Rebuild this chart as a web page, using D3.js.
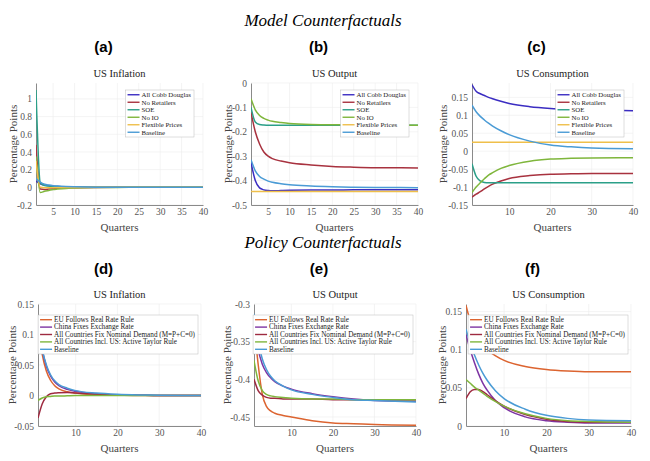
<!DOCTYPE html>
<html lang="en">
<head>
    <meta charset="UTF-8">
    <title>Model and Policy Counterfactuals</title>
    <script src="https://d3js.org/d3.v7.min.js"></script>
    <style>
        body { margin: 0; background: #fff; }
        text { font-family: "Liberation Serif", "Times New Roman", serif; }
        .axis .domain { stroke: #8a8a8a; }
        .axis text { fill: #555; font-size: 9.5px; font-family: "Liberation Serif", serif; }
    </style>
</head>
<body>
    <svg id="chart" width="650" height="461"></svg>
    <script>
        const quarters = [1, 2, 3, 4, 5, 6, 8, 10, 15, 20, 25, 30, 40];

        const modelNames = ["All Cobb Douglas", "No Retailers", "SOE", "No IO", "Flexible Prices", "Baseline"];
        const policyNames = ["EU Follows Real Rate Rule", "China Fixes Exchange Rate",
            "All Countries Fix Nominal Demand (M=P+C=0)", "All Countries Incl. US: Active Taylor Rule", "Baseline"];

        // (a) US Inflation, model counterfactuals
        const inflationModel = [
            [0.07, 0.04, 0.025, 0.018, 0.013, 0.01, 0.006, 0.004, 0.001, 0, 0, 0, 0],
            [0.48, -0.02, -0.025, -0.02, -0.015, -0.01, -0.006, -0.004, -0.001, 0, 0, 0, 0],
            [1.1, 0.05, 0.02, 0.015, 0.01, 0.008, 0.005, 0.003, 0.001, 0, 0, 0, 0],
            [0.35, -0.06, -0.045, -0.035, -0.025, -0.02, -0.012, -0.008, -0.003, -0.001, 0, 0, 0],
            [0.3, 0, -0.005, -0.005, -0.004, -0.003, -0.002, -0.001, 0, 0, 0, 0, 0],
            [0.1, 0.06, 0.035, 0.025, 0.018, 0.014, 0.009, 0.006, 0.002, 0.001, 0, 0, 0]
        ];
        // (b) US Output, model counterfactuals
        const outputModel = [
            [-0.325, -0.4, -0.43, -0.438, -0.441, -0.442, -0.441, -0.44, -0.439, -0.439, -0.438, -0.438, -0.438],
            [-0.12, -0.2, -0.25, -0.283, -0.3, -0.31, -0.32, -0.327, -0.336, -0.342, -0.345, -0.347, -0.348],
            [-0.1, -0.16, -0.17, -0.172, -0.173, -0.173, -0.173, -0.173, -0.173, -0.173, -0.173, -0.173, -0.173],
            [-0.065, -0.11, -0.133, -0.145, -0.152, -0.157, -0.162, -0.166, -0.17, -0.171, -0.172, -0.172, -0.173],
            [-0.445, -0.445, -0.445, -0.445, -0.445, -0.445, -0.445, -0.445, -0.445, -0.445, -0.445, -0.445, -0.445],
            [-0.315, -0.36, -0.383, -0.394, -0.402, -0.407, -0.413, -0.417, -0.422, -0.425, -0.427, -0.428, -0.429]
        ];
        // (c) US Consumption, model counterfactuals
        const consumptionModel = [
            [0.185, 0.167, 0.16, 0.155, 0.15, 0.146, 0.139, 0.133, 0.124, 0.119, 0.116, 0.115, 0.113],
            [-0.128, -0.12, -0.113, -0.105, -0.098, -0.092, -0.083, -0.076, -0.068, -0.064, -0.063, -0.062, -0.062],
            [-0.035, -0.07, -0.083, -0.087, -0.088, -0.088, -0.088, -0.088, -0.088, -0.088, -0.088, -0.088, -0.088],
            [-0.115, -0.1, -0.088, -0.077, -0.067, -0.06, -0.048, -0.04, -0.028, -0.022, -0.02, -0.019, -0.018],
            [0.025, 0.025, 0.025, 0.025, 0.025, 0.025, 0.025, 0.025, 0.025, 0.025, 0.025, 0.025, 0.025],
            [0.128, 0.11, 0.097, 0.087, 0.078, 0.07, 0.057, 0.046, 0.028, 0.017, 0.012, 0.009, 0.007]
        ];
        // (d) US Inflation, policy counterfactuals
        const inflationPolicy = [
            [0.115, 0.068, 0.04, 0.025, 0.016, 0.011, 0.006, 0.004, 0.001, 0.0005, 0, 0, 0],
            [0.116, 0.075, 0.048, 0.032, 0.022, 0.016, 0.01, 0.007, 0.003, 0.001, 0.0005, 0, 0],
            [-0.037, -0.014, -0.002, 0.003, 0.004, 0.0045, 0.005, 0.004, 0.002, 0.001, 0.0005, 0, 0],
            [-0.008, -0.004, -0.002, -0.0015, -0.001, -0.001, -0.0005, 0, 0, 0, 0, 0, 0],
            [0.11, 0.075, 0.05, 0.034, 0.024, 0.018, 0.012, 0.008, 0.004, 0.002, 0.001, 0.0005, 0]
        ];
        // (e) US Output, policy counterfactuals
        const outputPolicy = [
            [-0.325, -0.38, -0.42, -0.436, -0.442, -0.445, -0.448, -0.45, -0.455, -0.458, -0.459, -0.46, -0.461],
            [-0.32, -0.36, -0.38, -0.391, -0.398, -0.403, -0.409, -0.413, -0.419, -0.423, -0.426, -0.428, -0.429],
            [-0.4, -0.415, -0.421, -0.424, -0.425, -0.425, -0.426, -0.426, -0.426, -0.427, -0.427, -0.427, -0.427],
            [-0.375, -0.402, -0.415, -0.42, -0.422, -0.423, -0.424, -0.425, -0.426, -0.426, -0.427, -0.427, -0.427],
            [-0.313, -0.35, -0.373, -0.387, -0.396, -0.402, -0.409, -0.414, -0.42, -0.424, -0.427, -0.428, -0.43]
        ];
        // (f) US Consumption, policy counterfactuals
        const consumptionPolicy = [
            [0.158, 0.138, 0.125, 0.115, 0.107, 0.1, 0.092, 0.086, 0.078, 0.074, 0.072, 0.071, 0.071],
            [0.12, 0.1, 0.083, 0.068, 0.056, 0.047, 0.033, 0.024, 0.012, 0.007, 0.005, 0.004, 0.004],
            [0.036, 0.045, 0.048, 0.048, 0.045, 0.041, 0.033, 0.026, 0.015, 0.009, 0.006, 0.005, 0.005],
            [0.061, 0.056, 0.051, 0.047, 0.043, 0.039, 0.032, 0.026, 0.016, 0.01, 0.007, 0.006, 0.005],
            [0.127, 0.108, 0.093, 0.08, 0.069, 0.06, 0.046, 0.036, 0.022, 0.014, 0.01, 0.008, 0.007]
        ];

        // tick labels
        const xTicks5 = [5, 10, 15, 20, 25, 30, 35, 40];
        const xTicks10 = [10, 20, 30, 40];
        const yTicksA = [-0.2, 0, 0.2, 0.4, 0.6, 0.8, 1];
        const yTicksB = [-0.5, -0.4, -0.3, -0.2, -0.1, 0];
        const yTicksC = [-0.15, -0.1, -0.05, 0, 0.05, 0.1, 0.15];
        const yTicksD = [-0.05, 0, 0.05, 0.1, 0.15];
        const yTicksE = [-0.45, -0.4, -0.35, -0.3];
        const yTicksF = [0, 0.05, 0.1, 0.15];

        const modelColors = ["#3b2dc2", "#a8323f", "#2b9f88", "#7fb63c", "#efbf4a", "#4a9bd5"];
        const policyColors = ["#dc6430", "#7d34a3", "#9e2a40", "#7fb63c", "#4a9bd5"];

        const svg = d3.select("#chart");

        // headings
        svg.append("text").attr("x", 323).attr("y", 26).attr("text-anchor", "middle")
            .style("font-size", "17px").style("font-style", "italic").text("Model Counterfactuals");
        svg.append("text").attr("x", 323).attr("y", 248).attr("text-anchor", "middle")
            .style("font-size", "17px").style("font-style", "italic").text("Policy Counterfactuals");

        const panels = [
            {tag: "(a)", title: "US Inflation", x0: 36, x1: 203, y0: 83, y1: 205, ydom: [-0.2, 1.18],
             xt: xTicks5, yt: yTicksA, data: inflationModel, names: modelNames, colors: modelColors, tagY: 52, ylx: 13},
            {tag: "(b)", title: "US Output", x0: 251, x1: 418, y0: 83, y1: 205, ydom: [-0.5, 0],
             xt: xTicks5, yt: yTicksB, data: outputModel, names: modelNames, colors: modelColors, tagY: 52, ylx: 228},
            {tag: "(c)", title: "US Consumption", x0: 472, x1: 633, y0: 83, y1: 205, ydom: [-0.15, 0.19],
             xt: xTicks10, yt: yTicksC, data: consumptionModel, names: modelNames, colors: modelColors, tagY: 52, ylx: 443},
            {tag: "(d)", title: "US Inflation", x0: 38, x1: 201, y0: 304, y1: 426, ydom: [-0.05, 0.15],
             xt: xTicks10, yt: yTicksD, data: inflationPolicy, names: policyNames, colors: policyColors, tagY: 274, ylx: 12},
            {tag: "(e)", title: "US Output", x0: 254, x1: 416, y0: 304, y1: 426, ydom: [-0.462, -0.3],
             xt: xTicks10, yt: yTicksE, data: outputPolicy, names: policyNames, colors: policyColors, tagY: 274, ylx: 227},
            {tag: "(f)", title: "US Consumption", x0: 466, x1: 631, y0: 304, y1: 426, ydom: [0, 0.16],
             xt: xTicks10, yt: yTicksF, data: consumptionPolicy, names: policyNames, colors: policyColors, tagY: 274, ylx: 442}
        ];

        const fmt = d => String(+d.toFixed(3));

        panels.forEach((p, pi) => {
            const x = d3.scaleLinear().domain([1, 40]).range([p.x0, p.x1]);
            const y = d3.scaleLinear().domain(p.ydom).range([p.y1, p.y0]);
            const g = svg.append("g");

            // panel letter
            svg.append("text").attr("x", (p.x0 + p.x1) / 2 - 16).attr("y", p.tagY)
                .attr("text-anchor", "middle")
                .style("font-family", "'Liberation Sans Narrow', 'Liberation Sans', sans-serif")
                .style("font-weight", "bold").style("font-size", "15px").text(p.tag);

            // grid
            g.selectAll(".gx").data(p.xt).enter().append("line")
                .attr("x1", d => x(d)).attr("x2", d => x(d)).attr("y1", p.y0).attr("y2", p.y1)
                .attr("stroke", "#ececec").attr("stroke-width", 0.6);
            g.selectAll(".gy").data(p.yt).enter().append("line")
                .attr("x1", p.x0).attr("x2", p.x1).attr("y1", d => y(d)).attr("y2", d => y(d))
                .attr("stroke", "#ececec").attr("stroke-width", 0.6);

            // axes
            g.append("g").attr("class", "axis").attr("transform", `translate(0,${p.y1})`)
                .call(d3.axisBottom(x).tickValues(p.xt).tickSize(0).tickPadding(3).tickFormat(fmt));
            g.append("g").attr("class", "axis").attr("transform", `translate(${p.x0},0)`)
                .call(d3.axisLeft(y).tickValues(p.yt).tickSize(0).tickPadding(4).tickFormat(fmt));

            // title and labels
            g.append("text").attr("x", (p.x0 + p.x1) / 2).attr("y", p.y0 - 6).attr("text-anchor", "middle")
                .style("font-size", "10.5px").style("fill", "#222").text(p.title);
            g.append("text").attr("x", (p.x0 + p.x1) / 2).attr("y", p.y1 + 26).attr("text-anchor", "middle")
                .style("font-size", "11px").style("fill", "#444").text("Quarters");
            g.append("text").attr("transform", `translate(${p.ylx},${(p.y0 + p.y1) / 2}) rotate(-90)`)
                .attr("text-anchor", "middle").attr("dy", "0.35em")
                .style("font-size", "11px").style("fill", "#444").text("Percentage Points");

            // lines
            g.append("clipPath").attr("id", "clip" + pi).append("rect")
                .attr("x", p.x0).attr("y", p.y0 - 2).attr("width", p.x1 - p.x0).attr("height", p.y1 - p.y0 + 2);
            const line = d3.line().x((d, i) => x(quarters[i])).y(d => y(d)).curve(d3.curveMonotoneX);
            g.append("g").attr("clip-path", `url(#clip${pi})`)
                .selectAll("path").data(p.data).enter().append("path")
                .attr("d", d => line(d))
                .attr("fill", "none")
                .attr("stroke", (d, i) => p.colors[i])
                .attr("stroke-width", 1.5);

            // legend
            const isModel = p.names === modelNames;
            const rowH = isModel ? 7.5 : 7.4;
            const lg = g.append("g");
            const box = lg.append("rect").attr("fill", "#fff").attr("stroke", "#bdbdbd").attr("stroke-width", 0.5);
            const items = lg.selectAll(".it").data(p.names).enter().append("g")
                .attr("transform", (d, i) => `translate(0,${i * rowH})`);
            items.append("line").attr("x1", 2).attr("x2", 14).attr("y1", 0).attr("y2", 0)
                .attr("stroke", (d, i) => p.colors[i]).attr("stroke-width", 1.4);
            const texts = items.append("text").attr("x", 16).attr("dy", "0.33em")
                .style("font-size", isModel ? "6.8px" : "7.2px").style("fill", "#222").text(d => d);
            let maxW = 0;
            texts.each(function() { maxW = Math.max(maxW, this.getComputedTextLength()); });
            const w = 16 + maxW + 3;
            const h = rowH * p.names.length + 2;
            box.attr("x", 0).attr("y", -rowH / 2 - 1).attr("width", w).attr("height", h);
            const right = isModel ? p.x1 - 9 : p.x1 - 3;
            const top = isModel ? p.y0 + 7 : p.y0 + 11;
            lg.attr("transform", `translate(${right - w},${top + rowH / 2 + 1})`);
        });
    </script>
</body>
</html>
